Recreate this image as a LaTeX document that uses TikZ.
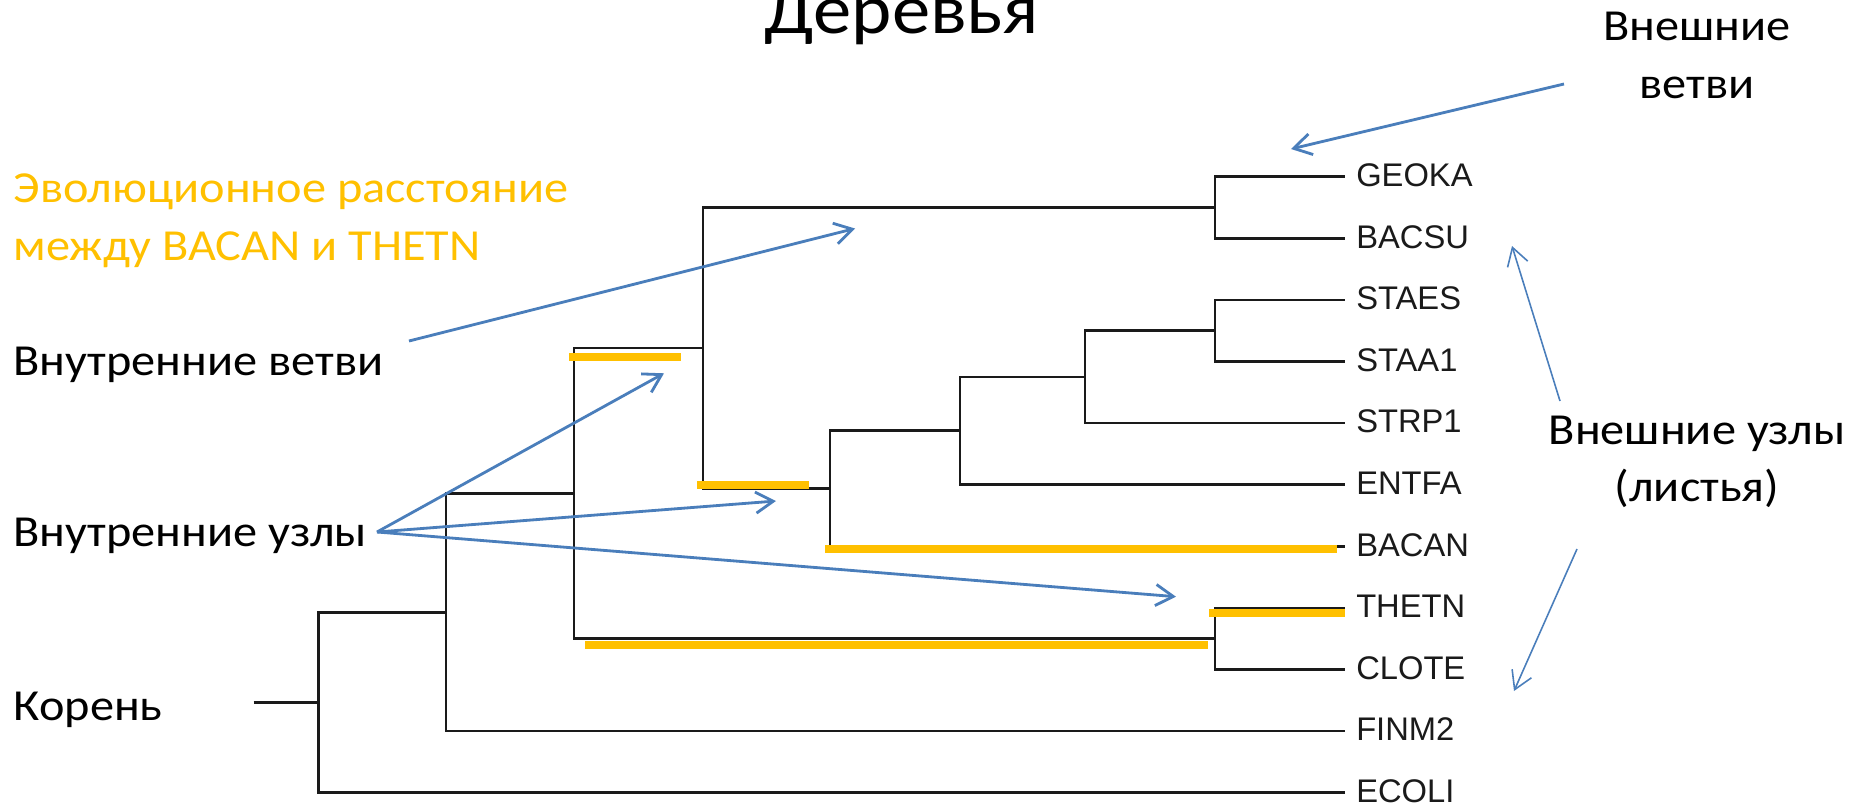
\documentclass[tikz,border=0pt]{standalone}
\usepackage{fontspec}
\setmainfont{Carlito}[FakeStretch=1.09]
\newfontfamily\leaffont{Liberation Sans}
\usepackage{tikz}
\usetikzlibrary{arrows.meta, positioning}
\definecolor{gold}{HTML}{FFC000}
\definecolor{officeblue}{HTML}{4A7EBB}
\definecolor{treegray}{HTML}{1A1A1A}

\begin{document}
\begin{tikzpicture}[
  x=0.01cm, y=-0.01cm,
  branch/.style={draw=treegray, line width=0.75pt},
  leaf/.style={anchor=west, inner xsep=3pt, inner ysep=0pt,
               text height=5.6pt, text depth=0pt, text=treegray,
               font=\leaffont\fontsize{9.3}{11}\selectfont},
  note/.style={anchor=base west, inner sep=0pt, align=left,
               font=\fontsize{12.6}{16.3}\selectfont},
  heading/.style={anchor=base, inner sep=0pt,
                  font=\fontsize{20}{24}\selectfont},
  distbar/.style={draw=gold, line width=0.08cm},
  pointer/.style={-{Straight Barb[length=5pt, width=6pt]},
                  draw=officeblue, line width=0.8pt},
  thinpointer/.style={pointer, line width=0.45pt},
]
\useasboundingbox (0,0) rectangle (1850,803);

% title, runs off the top edge
\node[heading] (title) at (902,33) {Деревья};

% leaves, one row each
\foreach \name [count=\i from 0] in {GEOKA,BACSU,STAES,STAA1,STRP1,ENTFA,BACAN,THETN,CLOTE,FINM2,ECOLI}
  \node[leaf] (\name) at (1345,{176.7+61.6*\i}) {\name};

% internal nodes of the tree
\coordinate (gb)    at (1215,207.5);
\coordinate (ss)    at (1215,330.7);
\coordinate (sss)   at (1085,376.9);
\coordinate (ent)   at (960,430.8);
\coordinate (bac)   at (830,488.5);
\coordinate (upper) at (703,348.0);
\coordinate (tc)    at (1215,638.7);
\coordinate (mid)   at (574,493.4);
\coordinate (fin)   at (446,612.2);
\coordinate (root)  at (318.6,702.5);
\coordinate (stub)  at (253.6,702.5);

% branches
\draw[branch] (stub) -- (root);
\foreach \p/\c in {root/fin, root/ECOLI.west, fin/mid, fin/FINM2.west,
                   mid/upper, mid/tc, tc/THETN.west, tc/CLOTE.west,
                   upper/gb, upper/bac, gb/GEOKA.west, gb/BACSU.west,
                   bac/ent, bac/BACAN.west, ent/sss, ent/ENTFA.west,
                   sss/ss, sss/STRP1.west, ss/STAES.west, ss/STAA1.west}
  \draw[branch] (\p) |- (\c);

% distance BACAN -- THETN, summed along the path
\draw[distbar] (569,356.7) -- (681,356.7);
\draw[distbar] (697,484.7) -- (809,484.7);
\draw[distbar] (825,548.7) -- (1337,548.7);
\draw[distbar] (1209,612.7) -- (1345,612.7);
\draw[distbar] (585,645) -- (1208,645);

% captions (base = last line)
\node[note, text=gold] (distance) at (13,260)
  {Эволюционное расстояние\\между BACAN и THETN};
\node[note] (innerbranches) at (13,375) {Внутренние ветви};
\node[note] (innernodes) at (13,546.7) {Внутренние узлы};
\node[note] (rootname) at (13,720) {Корень};
\node[note, anchor=base, align=center] (outerbranches) at (1697,98.3)
  {Внешние\\ветви};
\node[note, anchor=base, align=center] (outernodes) at (1697,501.7)
  {Внешние узлы\\(листья)};

% pointers
\coordinate (ob-tail) at (1564,84);
\coordinate (ob-tip)  at (1291,149);
\coordinate (ib-tail) at (409,341);
\coordinate (ib-tip)  at (855,228.5);
\coordinate (in-tail) at (377,532);
\coordinate (in-tip1) at (664,373.3);
\coordinate (in-tip2) at (776,501);
\coordinate (in-tip3) at (1176,596.7);
\coordinate (on-tail1) at (1560,401);
\coordinate (on-tip1)  at (1512,246);
\coordinate (on-tail2) at (1577,549);
\coordinate (on-tip2)  at (1514,691);

\draw[pointer] (ob-tail) -- (ob-tip);
\draw[pointer] (ib-tail) -- (ib-tip);
\foreach \t in {in-tip1, in-tip2, in-tip3}
  \draw[pointer] (in-tail) -- (\t);
\draw[thinpointer] (on-tail1) -- (on-tip1);
\draw[thinpointer] (on-tail2) -- (on-tip2);

\end{tikzpicture}
\end{document}
